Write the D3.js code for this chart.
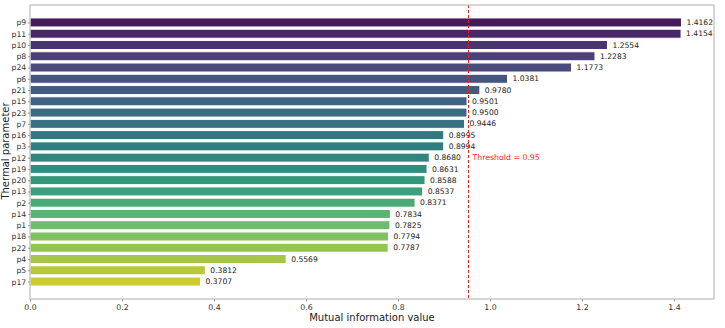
<!DOCTYPE html>
<html>
<head>
<meta charset="utf-8">
<script src="https://cdn.jsdelivr.net/npm/d3@7"></script>
<style>
  body { margin: 0; background: #fff; }
  svg { display: block; font-family: "DejaVu Sans", sans-serif; }
</style>
</head>
<body>
<svg id="chart" width="725" height="328"></svg>
<script>
const categories = ["p9","p11","p10","p8","p24","p6","p21","p15","p23","p7","p16","p3","p12","p19","p20","p13","p2","p14","p1","p18","p22","p4","p5","p17"];
const values = [1.4162,1.4154,1.2554,1.2283,1.1773,1.0381,0.9780,0.9501,0.9500,0.9446,0.8995,0.8994,0.8680,0.8631,0.8588,0.8537,0.8371,0.7834,0.7825,0.7794,0.7787,0.5569,0.3812,0.3707];
const xTicks = [0.0,0.2,0.4,0.6,0.8,1.0,1.2,1.4];
const threshold = 0.95;
const thresholdLabel = "Threshold = 0.95";
const xLabel = "Mutual information value";
const yLabel = "Thermal parameter";

const svg = d3.select("#chart");
const m = {left: 30, right: 11, top: 5, bottom: 29};
const W = 725, H = 328;
const x = d3.scaleLinear().domain([0, 1.487]).range([m.left, W - m.right]);
const n = categories.length;
const yc = d3.scaleLinear().domain([-1.55, n - 1 + 1.55]).range([m.top, H - m.bottom]);
const step = yc(1) - yc(0);
const barH = step * 0.8;

// seaborn-like viridis palette, desaturated
const colors = categories.map((c, i) => {
  const t = (i + 1) / (n + 1);
  const h = d3.hsl(d3.interpolateViridis(t));
  h.s *= 0.75;
  return h.formatHex();
});

const g = svg.append("g");
g.selectAll("rect.bar").data(categories).join("rect")
  .attr("class", "bar")
  .attr("x", x(0))
  .attr("y", (d, i) => yc(i) - barH / 2)
  .attr("width", (d, i) => x(values[i]) - x(0))
  .attr("height", barH)
  .attr("fill", (d, i) => colors[i])
  .attr("stroke", "#fff")
  .attr("stroke-width", 1);

g.selectAll("text.val").data(categories).join("text")
  .attr("class", "val")
  .attr("x", (d, i) => x(values[i]) + 5)
  .attr("y", (d, i) => yc(i))
  .attr("dy", "0.35em")
  .attr("font-size", 7.6)
  .attr("fill", "#222")
  .text((d, i) => values[i].toFixed(4));

// threshold
const tx = Math.round(x(threshold)) + 1.5;
g.append("line")
  .attr("x1", tx).attr("x2", tx)
  .attr("y1", m.top).attr("y2", H - m.bottom)
  .attr("stroke", "#ff1a1a").attr("stroke-width", 1)
  .attr("stroke-dasharray", "3,2");
g.append("text")
  .attr("x", x(threshold + 0.012))
  .attr("y", yc(n / 2))
  .attr("dy", "0.35em")
  .attr("font-size", 7.8)
  .attr("fill", "#ff1a1a")
  .text(thresholdLabel);

// frame
svg.append("rect")
  .attr("x", m.left).attr("y", m.top)
  .attr("width", W - m.right - m.left).attr("height", H - m.bottom - m.top)
  .attr("fill", "none").attr("stroke", "#bbb").attr("stroke-width", 1.2);

// x axis
const xa = svg.append("g").attr("transform", `translate(0,${H - m.bottom})`)
  .call(d3.axisBottom(x).tickValues(xTicks).tickFormat(d3.format(".1f")).tickSize(2.5).tickPadding(2.5));
xa.select(".domain").remove();
xa.selectAll("line").attr("stroke", "#999");
xa.selectAll("text").attr("font-size", 7.8).attr("fill", "#333").attr("font-family", "DejaVu Sans");

// y axis
const ya = svg.append("g").attr("transform", `translate(${m.left},0)`)
  .call(d3.axisLeft(yc).tickValues(d3.range(n)).tickFormat(i => categories[i]).tickSize(2).tickPadding(1.8));
ya.select(".domain").remove();
ya.selectAll("line").attr("stroke", "#999");
ya.selectAll("text").attr("font-size", 7.7).attr("fill", "#333").attr("font-family", "DejaVu Sans");

svg.append("text")
  .attr("x", (m.left + W - m.right) / 2).attr("y", 321)
  .attr("text-anchor", "middle").attr("font-size", 10).attr("fill", "#222")
  .text(xLabel);
svg.append("text")
  .attr("transform", `translate(9,${(m.top + H - m.bottom) / 2 - 1}) rotate(-90)`)
  .attr("text-anchor", "middle").attr("font-size", 10).attr("fill", "#222")
  .text(yLabel);
</script>
</body>
</html>
